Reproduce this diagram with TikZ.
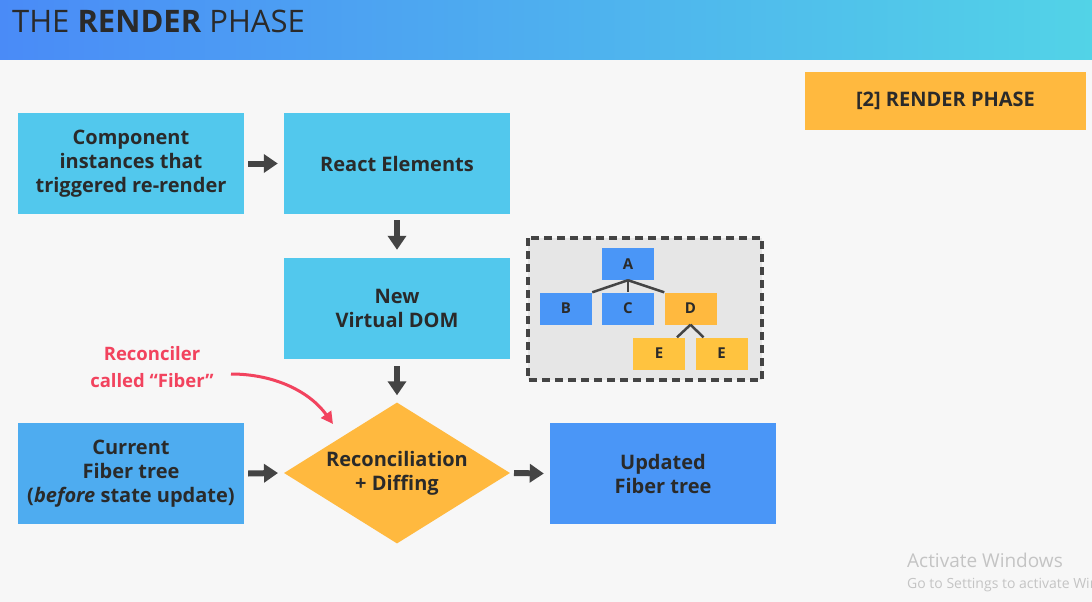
\documentclass[tikz,border=0pt]{standalone}
\usepackage{fontspec}
\setmainfont{Open Sans}
\newfontfamily\wmfont{Open Sans}
\usetikzlibrary{shapes.geometric,arrows.meta}
\definecolor{bgc}{HTML}{F7F7F7}
\definecolor{cyanbox}{HTML}{52C8ED}
\definecolor{skyblue}{HTML}{4EACF0}
\definecolor{blueb}{HTML}{4A96F7}
\definecolor{orangeb}{HTML}{FFB93F}
\definecolor{yellowb}{HTML}{FFC33F}
\definecolor{ink}{HTML}{2A2A2A}
\definecolor{arrowc}{HTML}{444444}
\definecolor{redc}{HTML}{F2435E}
\definecolor{hdrl}{HTML}{4A8BF7}
\definecolor{hdrr}{HTML}{52D3E7}
\definecolor{treebg}{HTML}{E6E6E6}
\definecolor{wm}{HTML}{C4C4C4}
\tikzset{
  box/.style={minimum width=226pt, minimum height=101pt, inner sep=0pt, align=center,
    font=\fontsize{20}{24}\selectfont\bfseries, text=ink},
  flow/.style={arrowc, line width=6pt, -{Triangle[length=14pt,width=18pt]}},
  tnode/.style={minimum width=52pt, minimum height=32pt, inner sep=0pt,
    font=\fontsize{15}{15}\selectfont\bfseries, text=ink},
  tedge/.style={arrowc, line width=2.5pt},
}
\begin{document}
\begin{tikzpicture}[x=1pt,y=-1pt]
\useasboundingbox (0,0) rectangle (1092,602);
\fill[bgc] (0,0) rectangle (1092,602);
% title band
\shade[left color=hdrl, right color=hdrr] (0,0) rectangle (1092,60);
\node[anchor=base west, inner sep=0pt, text=ink, font=\fontsize{31}{31}\selectfont] (title) at (12,33)
  {THE \textbf{RENDER} PHASE};
% phase tag
\node[fill=orangeb, minimum width=281pt, minimum height=58pt, inner sep=0pt,
  font=\fontsize{20}{20}\selectfont\bfseries, text=ink] (phase) at (945.5,101) {[2] RENDER PHASE};
% main flow
\node[box, fill=cyanbox] (comp) at (131,163.5) {Component\\instances that\\triggered re-render};
\node[box, fill=cyanbox] (elem) at (397,163.5) {React Elements};
\node[box, fill=cyanbox] (vdom) at (397,308.5) {New\\Virtual DOM};
\node[box, fill=skyblue] (cur) at (131,473.5) {Current\\Fiber tree\\(\textit{before} state update)};
\node[diamond, fill=orangeb, minimum width=226pt, minimum height=141pt, inner sep=0pt,
  aspect=1.6, align=center, font=\fontsize{20}{24}\selectfont\bfseries, text=ink] (rec) at (397,473)
  {Reconciliation\\+ Diffing};
\node[box, fill=blueb] (upd) at (663,473.5) {Updated\\Fiber tree};
% flow arrows
\draw[flow] ([xshift=4pt]comp.east) -- ([xshift=-6pt]elem.west);
\draw[flow] ([yshift=-6pt]elem.south) -- ([yshift=8pt]vdom.north);
\draw[flow] ([yshift=-7pt]vdom.south) -- ([yshift=7pt]rec.north);
\draw[flow] ([xshift=4pt]cur.east) -- (278,473);
\draw[flow] (514,473) -- ([xshift=-6pt]upd.west);
% note about the reconciler
\node[text=redc, align=center, font=\fontsize{18.5}{27}\selectfont\bfseries] (note) at (152,367)
  {Reconciler\\called \textquotedblleft Fiber\textquotedblright};
\coordinate (nstart) at (231,374);
\draw[redc, line width=3pt, -{Triangle[length=12pt,width=12pt]}]
  (nstart) .. controls (275,374) and (310,392) .. (333,424);
% virtual DOM tree sketch
\draw[arrowc, fill=treebg, line width=4pt, dash pattern=on 8pt off 5pt] (528,238) rectangle (762,380);
\node[tnode, fill=blueb] (ta) at (628,264) {A};
\node[tnode, fill=blueb] (tb) at (566,308.5) {B};
\node[tnode, fill=blueb] (tc) at (628,308.5) {C};
\node[tnode, fill=orangeb] (td) at (690.5,308.5) {D};
\node[tnode, fill=yellowb] (te1) at (659,353.5) {E};
\node[tnode, fill=yellowb] (te2) at (721.5,353.5) {E};
\draw[tedge] (ta.south) -- (tb.north east);
\draw[tedge] (ta.south) -- (tc.north);
\draw[tedge] (ta.south) -- (td.north west);
\draw[tedge] (td.south) -- ([xshift=18pt]te1.north);
\draw[tedge] (td.south) -- ([xshift=-18pt]te2.north);
% system watermark
\begin{scope}
\clip (0,0) rectangle (1092,602);
\node[anchor=base west, inner sep=0pt, text=wm, font=\wmfont\fontsize{19}{19}\selectfont] (wm1) at (907,567) {Activate Windows};
\node[anchor=base west, inner sep=0pt, text=wm, font=\wmfont\fontsize{14}{14}\selectfont] (wm2) at (907,588) {Go to Settings to activate Windows.};
\end{scope}
\end{tikzpicture}
\end{document}
